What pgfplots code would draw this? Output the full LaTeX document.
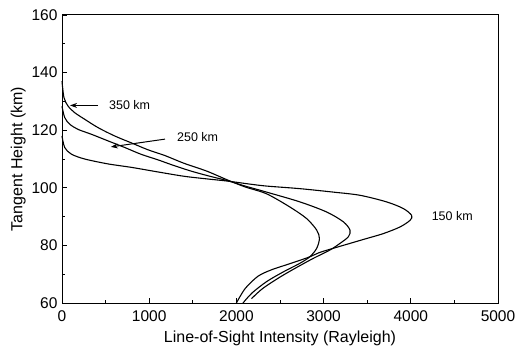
\documentclass[border=0pt]{standalone}
\usepackage{fontspec}
\setmainfont{Liberation Sans}
\usepackage{pgfplots}
\pgfplotsset{compat=1.18}
\usetikzlibrary{arrows.meta}
\begin{document}
\begin{tikzpicture}
\begin{axis}[
  at={(0,0)}, anchor=south west,
  scale only axis, width=436bp, height=288bp,
  xmin=0, xmax=5000, ymin=60, ymax=160,
  xtick={0,1000,2000,3000,4000,5000},
  ytick={60,80,100,120,140,160},
  minor x tick num=1, minor y tick num=1,
  xtick pos=left, ytick pos=left,
  tick align=inside,
  major tick length=5bp, minor tick length=3bp,
  axis line style={line width=1pt},
  tick style={line width=0.9pt, black},
  /pgf/number format/assume math mode=true,
  /pgf/number format/1000 sep={},
  ticklabel style={font=\fontsize{15.5bp}{17bp}\selectfont},
  label style={font=\fontsize{16bp}{18bp}\selectfont},
  xlabel={Line-of-Sight Intensity (Rayleigh)},
  ylabel={Tangent Height (km)},
  xticklabel style={yshift=-4bp},
  yticklabel style={xshift=-1bp},
  xlabel style={at={(axis description cs:0.5,0)}, anchor=center, yshift=-35bp},
  ylabel style={yshift=-1bp},
  clip=false,
]
% 150 km
\addplot[black, line width=1.1pt, smooth] coordinates {
(0,118) (31,114) (107,111.7) (260,110) (527,108.3) (795,107.1) (1101,105.5) (1400,104) (1659,103.1) (1907,102.3) (2150,101.3) (2347,100.6) (2729,99.7) (3112,98.5) (3417,97.4) (3723,95.1) (3914,92.8) (4010,90.4) (3991,88.7) (3876,86.4) (3685,84.1) (3494,82.4) (3303,80.7) (3112,79) (2950,77.5) (2821,75.8) (2557,73.1) (2400,71.5) (2248,69.3) (2100,65) (2000,60)
};
% 250 km
\addplot[black, line width=1.1pt, smooth] coordinates {
(0,128.3) (31,124.4) (88,122.1) (183,120.3) (336,118.6) (527,116.3) (719,114) (910,111.6) (1101,109.7) (1277,107.8) (1480,105.8) (1659,104.3) (1907,102.4) (2100,100.6) (2347,98.5) (2729,95.1) (3035,91.6) (3226,88.2) (3303,85.3) (3284,83) (3188,80.7) (3073,78.4) (2882,75.5) (2700,72.5) (2500,69) (2300,65) (2173,61.5)
};
% 350 km
\addplot[black, line width=1.1pt, smooth] coordinates {
(0,137) (23,131.3) (69,128.4) (145,126.1) (260,123.8) (413,120.9) (604,118) (795,115.6) (986,113.2) (1180,111.2) (1400,108.5) (1659,105.8) (1907,102.6) (2100,100.3) (2347,97.9) (2615,93.3) (2806,89.3) (2921,85.3) (2952,82.4) (2921,79) (2844,76.1) (2729,73.8) (2550,71) (2350,67.5) (2180,63.5) (2076,60)
};
\draw[line width=1pt, -{Stealth[length=7bp,width=5bp]}] (axis cs:413,128.6) -- (axis cs:92,128.6);
\draw[line width=1pt, -{Stealth[length=7bp,width=5bp]}] (axis cs:1181,116.9) -- (axis cs:560,114.2);
\node[anchor=west, font=\fontsize{12.5bp}{14bp}\selectfont] at (axis cs:500,128.6) {350 km};
\node[anchor=west, font=\fontsize{12.5bp}{14bp}\selectfont] at (axis cs:1280,117.6) {250 km};
\node[anchor=west, font=\fontsize{12.5bp}{14bp}\selectfont] at (axis cs:4200,90.2) {150 km};
\end{axis}
\pgfresetboundingbox
\useasboundingbox (-62bp,-49bp) rectangle (454bp,303bp);
\end{tikzpicture}
\end{document}
